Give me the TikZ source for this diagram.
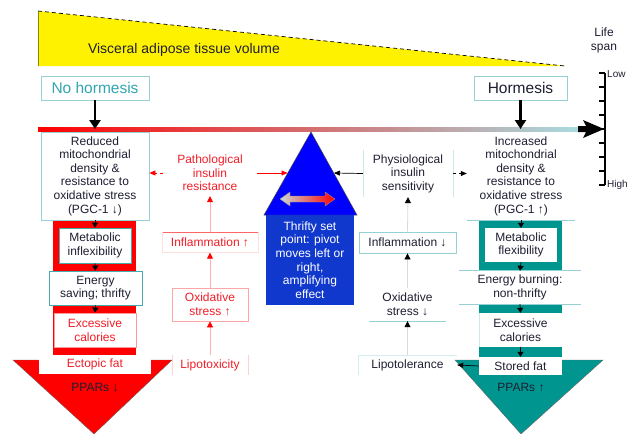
\documentclass[tikz,border=0pt]{standalone}
\usepackage{fontspec}
\setmainfont{Liberation Sans}
\usetikzlibrary{arrows.meta,shapes.geometric}
\definecolor{tealf}{RGB}{0,150,143}
\definecolor{tealL}{RGB}{150,210,212}
\definecolor{tealD}{RGB}{70,170,172}
\definecolor{dtext}{RGB}{30,30,50}
\definecolor{rtext}{RGB}{240,30,40}
\definecolor{blueR}{RGB}{16,56,205}
\definecolor{nohc}{RGB}{50,165,175}
\definecolor{barmid}{RGB}{215,168,175}
\definecolor{barend}{RGB}{168,220,224}
\definecolor{arrL}{RGB}{200,218,218}
\begin{document}
\begin{tikzpicture}[x=1pt,y=-1pt,
  txt/.style={font=\fontsize{12}{13.6}\selectfont, align=center, inner sep=0pt, text=dtext},
  rtxt/.style={txt, text=rtext},
  box/.style={txt, draw=tealL, fill=white, line width=0.8pt},
  rbox/.style={rtxt, draw=red!35, fill=white, line width=0.8pt},
  sarr/.style={-{Triangle[width=6pt,length=5pt]}, line width=0.8pt, black},
  bigarr/.style={-{Triangle[width=11pt,length=9pt]}, line width=2.5pt, black},
  uparrR/.style={red!30, line width=0.8pt, -{Triangle[width=6pt,length=6pt,color=red]}},
  uparrK/.style={black!15, line width=0.8pt, -{Triangle[width=6pt,length=6pt,color=black]}},
  hd/.style={font=\fontsize{15.5}{17}\selectfont}
]
\useasboundingbox (0,0) rectangle (633,434);

% visceral adipose tissue wedge
\fill[yellow] (38,11) -- (565,66) -- (38,66) -- cycle;
\draw[dash pattern=on 4pt off 3pt, line width=0.7pt] (38,11) -- (565,66);
\draw[olive, line width=0.6pt] (38,11) -- (38,66);
\node[txt, font=\fontsize{14}{16}\selectfont] (vat) at (184,50) {Visceral adipose tissue volume};

% hormesis labels
\node[box, hd, text=nohc, minimum width=108pt, minimum height=24pt] (noh) at (95,88) {No hormesis};
\node[box, hd, minimum width=93pt, minimum height=24pt] (hor) at (520.5,88) {Hormesis};

% gradient bar
\shade[left color=red, middle color=barmid, right color=barend] (38,127) rectangle (580,131);
\coordinate (bar) at (38,129);
\draw[bigarr] (noh.south) -- (noh.south |- bar);
\draw[bigarr] (hor.south) -- (hor.south |- bar);

% life span scale
\fill (578,126) -- (586,126) -- (583,120) -- (604,129) -- (583,138) -- (586,132) -- (578,132) -- cycle;
\draw[line width=1.8pt] (605,73) -- (605,185);
\foreach \yy in {73,87,101,115,129,143,157,171,185}
  \draw[line width=1.2pt] (599,\yy) -- (605,\yy);
\node[txt, font=\fontsize{12}{14}\selectfont] (life) at (604,40) {Life\\span};
\node[txt, anchor=west, font=\fontsize{10}{12}\selectfont] (low) at (607,74) {Low};
\node[txt, anchor=west, font=\fontsize{10}{12}\selectfont] (high) at (607,185) {High};

% left column (no hormesis)
\filldraw[fill=red, draw=black!60, line width=0.4pt] (13,360) -- (172,360) -- (94,434) -- cycle;
\fill[red] (53,220) rectangle (136,360);
\node[box, minimum width=108pt, minimum height=88pt] (red1) at (95,176)
  {Reduced\\mitochondrial\\density \&\\resistance to\\oxidative stress\\(PGC-1 ↓)};
\node[box, draw=tealD, minimum width=72pt, minimum height=35pt] (mi) at (95,245.5) {Metabolic\\inflexibility};
\node[box, draw=tealD, minimum width=93pt, minimum height=34pt] (es) at (95.5,288) {Energy\\saving; thrifty};
\node[rbox, draw=red!40, minimum width=82pt, minimum height=34pt] (exL) at (95,330) {Excessive\\calories};
\node[rbox, draw=none, minimum width=112pt, minimum height=19pt] (ect) at (95,364.5) {Ectopic fat};
\node[txt] (ppL) at (95,388) {PPARs ↓};
\draw[sarr] (red1.south) -- (mi.north);
\draw[sarr] (mi.south) -- (es.north);
\draw[sarr] (es.south) -- (exL.north);

% right column (hormesis)
\filldraw[fill=tealf, draw=black!60, line width=0.4pt] (455,360) -- (603,360) -- (521,434) -- cycle;
\fill[tealf] (479,220) rectangle (562,360);
\node[txt, minimum width=108pt, minimum height=88pt] (inc) at (521,176)
  {Increased\\mitochondrial\\density \&\\resistance to\\oxidative stress\\(PGC-1 ↑)};
\draw[tealL, line width=0.8pt] (inc.south west) -- (inc.south east);
\node[txt, fill=white, minimum width=72pt, minimum height=34pt] (mf) at (521,245) {Metabolic\\flexibility};
\node[txt, fill=white, minimum width=122pt, minimum height=33pt] (eb) at (520,287.5) {Energy burning:\\non-thrifty};
\draw[tealL, line width=0.8pt] (eb.north west) -- (eb.north east) (eb.south west) -- (eb.south east);
\node[txt, fill=white, minimum width=83pt, minimum height=34pt] (exR) at (520.5,330) {Excessive\\calories};
\draw[tealL!50, line width=0.6pt] (exR.north west) -- (exR.south west);
\node[txt, fill=white, minimum width=83pt, minimum height=18pt] (st) at (520.5,366) {Stored fat};
\node[txt] (ppR) at (521,388) {PPARs ↑};
\draw[sarr] (inc.south) -- (mf.north);
\draw[sarr] (mf.south) -- (eb.north);
\draw[sarr] (eb.south) -- (exR.north);
\draw[sarr] (exR.south) -- (st.north);

% central pivot
\filldraw[fill=blue, draw=black!70, line width=0.5pt] (311,132) -- (357,215) -- (264,215) -- cycle;
\node[txt, text=white, fill=blueR, minimum width=88pt, minimum height=90pt] (thr) at (310,260)
  {Thrifty set\\point: pivot\\moves left or\\right,\\amplifying\\effect};
\shade[left color=arrL, right color=red, draw=black!45, line width=0.4pt]
  (280,199) -- (290,192) -- (290,196) -- (325,196) -- (325,192) -- (335,199)
  -- (325,206) -- (325,202) -- (290,202) -- (290,206) -- cycle;
\coordinate (triL) at (287.5,173);
\coordinate (triR) at (334,173);

% middle-left (red) chain
\node[rtxt, minimum width=94pt, minimum height=46pt] (path) at (210,173) {Pathological\\insulin\\resistance};
\node[rtxt, fill=white, minimum width=96pt, minimum height=20pt] (infU) at (210,242.5) {Inflammation ↑};
\draw[red!60, line width=0.8pt] (infU.north west) -- (infU.north east);
\draw[red!12, line width=0.6pt] (infU.north west) -- (infU.south west) -- (infU.south east) -- (infU.north east);
\node[rbox, minimum width=76pt, minimum height=33pt] (oxU) at (210,304.5) {Oxidative\\stress ↑};
\node[rtxt, minimum width=76pt, minimum height=20pt] (lipU) at (210,365) {Lipotoxicity};
\draw[red!18, line width=0.6pt] (lipU.north west) -- (lipU.south west) (lipU.north east) -- (lipU.south east);
\draw[red, line width=0.7pt, -{Triangle[width=5pt,length=6pt]}] (path.east) -- (triL);
\draw[red, line width=0.7pt, dashed, -{Triangle[width=5pt,length=6pt]}] (path.west) -- (path.west -| red1.east);
\draw[uparrR] (infU.north) -- (path.south);
\draw[uparrR] (oxU.north) -- (infU.south);
\draw[uparrR] (lipU.north) -- (oxU.south);

% middle-right chain
\node[txt, minimum width=90pt, minimum height=47pt] (phys) at (408,173.5) {Physiological\\insulin\\sensitivity};
\draw[tealL!50, line width=0.6pt] (phys.north west) -- (phys.south west) (phys.north east) -- (phys.south east);
\node[box, minimum width=97pt, minimum height=21pt] (infD) at (407.5,242.5) {Inflammation ↓};
\node[txt, minimum width=77pt, minimum height=33pt] (oxD) at (407.5,304.5) {Oxidative\\stress ↓};
\draw[tealL, line width=0.8pt] (oxD.south west) -- (oxD.south east);
\node[txt, minimum width=99pt, minimum height=20pt] (lipD) at (407.5,365) {Lipotolerance};
\draw[tealL!40, line width=0.6pt] (lipD.south west) -- (lipD.north west) -- (lipD.north east);
\draw[black, line width=0.7pt, -{Triangle[width=5pt,length=6pt]}] (phys.west) -- (triR);
\draw[black, line width=0.7pt, dashed, -{Triangle[width=5pt,length=6pt]}] (phys.east) -- (phys.east -| inc.west);
\draw[uparrK] (infD.north) -- (phys.south);
\draw[uparrK] (oxD.north) -- (infD.south);
\draw[uparrK] (lipD.north) -- (oxD.south);
\draw[black, line width=0.7pt, -{Triangle[width=5pt,length=6pt]}] (st.west) -- (lipD.east);
\end{tikzpicture}
\end{document}
